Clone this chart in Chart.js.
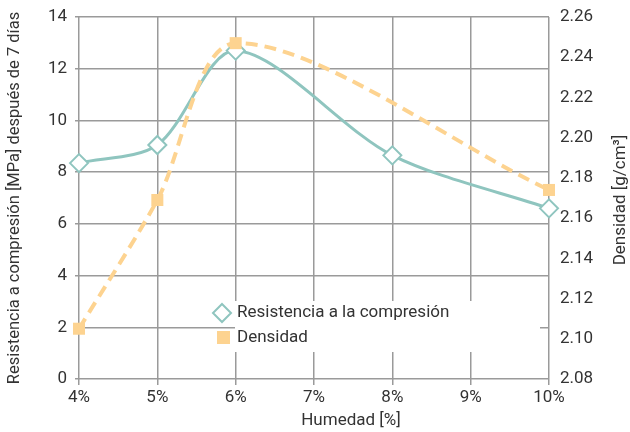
<!DOCTYPE html>
<html>
<head>
<meta charset="utf-8">
<script src="https://cdn.jsdelivr.net/npm/chart.js@4/dist/chart.umd.min.js"></script>
<style>
  html, body { margin: 0; padding: 0; background: #fff; }
</style>
</head>
<body>
<canvas id="chart" width="630" height="432"></canvas>
<script>
// data
const humedadRes = [4, 5, 6, 8, 10];
const resistencia = [8.35, 9.05, 12.7, 8.65, 6.6];
const humedadDens = [4, 5, 6, 10];
const densidad = [2.105, 2.169, 2.247, 2.174];

const labelRes = 'Resistencia a la compresión';
const labelDens = 'Densidad';
const titleX = 'Humedad [%]';
const titleLeft = 'Resistencia a compresión [MPa] después de 7 días';
const titleRight = 'Densidad [g/cm³]';

const TEAL = '#8fc5bf';
const ORANGE = '#fdd390';
const GRID = '#9a9a9a';
const TEXT = '#333333';
const FONT = 'Roboto, "Noto Sans", sans-serif';

function pts(xs, ys) { return xs.map((x, i) => ({ x: x, y: ys[i] })); }

// axis titles + legend drawn by hand (legend sits inside the plot)
const extras = {
  id: 'extras',
  afterDatasetsDraw(chart) {
    const ctx = chart.ctx;
    const a = chart.chartArea;
    ctx.save();

    // legend box
    ctx.fillStyle = '#fff';
    ctx.fillRect(235, 301, 305, 51);

    ctx.lineWidth = 2;
    ctx.strokeStyle = TEAL;
    ctx.fillStyle = '#fff';
    ctx.beginPath();
    ctx.moveTo(222, 304); ctx.lineTo(231, 313); ctx.lineTo(222, 322); ctx.lineTo(213, 313);
    ctx.closePath();
    ctx.fill(); ctx.stroke();

    ctx.fillStyle = ORANGE;
    ctx.fillRect(217, 331, 13, 13);

    ctx.fillStyle = TEXT;
    ctx.font = '17px ' + FONT;
    ctx.textBaseline = 'middle';
    ctx.textAlign = 'left';
    ctx.fillText(labelRes, 237, 313);
    ctx.fillText(labelDens, 237, 338);

    // x title
    ctx.textAlign = 'center';
    ctx.fillText(titleX, 351, 421);

    // left title
    ctx.save();
    ctx.translate(15, (a.top + a.bottom) / 2);
    ctx.rotate(-Math.PI / 2);
    ctx.font = '16.5px ' + FONT;
    ctx.fillText(titleLeft, 0, 0);
    ctx.restore();

    // right title, reads bottom to top
    ctx.save();
    ctx.translate(621, 200);
    ctx.rotate(-Math.PI / 2);
    ctx.fillText(titleRight, 0, 0);
    ctx.restore();

    ctx.restore();
  }
};

function fitY(w) {
  return (s) => { s.width = w; s.paddingTop = 0; s.paddingBottom = 0; };
}

new Chart(document.getElementById('chart').getContext('2d'), {
  type: 'line',
  data: {
    datasets: [
      {
        label: labelDens, data: pts(humedadDens, densidad), yAxisID: 'y2', order: 0, clip: false,
        borderColor: ORANGE, borderWidth: 4, borderDash: [12, 7], tension: 0.3,
        pointStyle: 'rect', pointRadius: 8.5, pointBorderWidth: 0,
        pointBackgroundColor: ORANGE, pointBorderColor: ORANGE
      },
      {
        label: labelRes, data: pts(humedadRes, resistencia), yAxisID: 'y', order: 1, clip: false,
        borderColor: TEAL, borderWidth: 3, tension: 0.3,
        pointStyle: 'rectRot', pointRadius: 9, pointBorderWidth: 2,
        pointBackgroundColor: '#fff', pointBorderColor: TEAL
      }
    ]
  },
  options: {
    responsive: false, animation: false, devicePixelRatio: 1,
    layout: { padding: { top: 17, left: 0, right: 0, bottom: 0 } },
    plugins: { legend: { display: false }, tooltip: { enabled: false } },
    scales: {
      x: {
        type: 'linear', min: 4, max: 10,
        afterFit: (s) => { s.height = 53; s.paddingLeft = 0; s.paddingRight = 0; },
        grid: { color: GRID, lineWidth: 1.5, tickLength: 6 },
        border: { display: false },
        ticks: { stepSize: 1, padding: 3, color: TEXT, font: { family: FONT, size: 17 },
                 callback: (v) => v + '%' }
      },
      y: {
        position: 'left', min: 0, max: 14,
        afterFit: fitY(79),
        grid: { color: GRID, lineWidth: 1.5, tickLength: 4 },
        border: { display: false },
        ticks: { stepSize: 2, padding: 8, color: TEXT, font: { family: FONT, size: 17 } }
      },
      y2: {
        position: 'right', min: 2.08, max: 2.26,
        afterFit: fitY(81),
        grid: { display: false, drawTicks: false },
        border: { display: false },
        ticks: { stepSize: 0.02, padding: 11, color: TEXT, font: { family: FONT, size: 17 },
                 callback: (v) => v.toFixed(2) }
      }
    }
  },
  plugins: [extras]
});
</script>
</body>
</html>
